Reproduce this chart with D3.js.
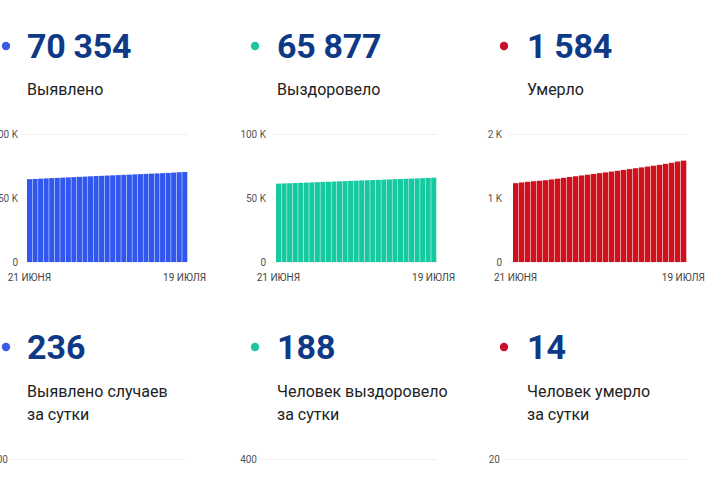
<!DOCTYPE html>
<html><head><meta charset="utf-8">
<script src="https://cdn.jsdelivr.net/npm/d3@7"></script>
<style>
html,body{margin:0;padding:0;background:#fff;overflow:hidden}
svg{display:block;font-family:Roboto,"Noto Sans",sans-serif}
</style></head>
<body><svg id="c" width="720" height="480"></svg>
<script>
const days = ["21.06","22.06","23.06","24.06","25.06","26.06","27.06","28.06","29.06","30.06",
"01.07","02.07","03.07","04.07","05.07","06.07","07.07","08.07","09.07","10.07",
"11.07","12.07","13.07","14.07","15.07","16.07","17.07","18.07","19.07"];
const xTickLabels = ["21 ИЮНЯ","19 ИЮЛЯ"];
const cases = [64700,64910,65120,65330,65530,65730,65930,66130,66330,66530,66730,66930,67130,67320,67510,
67700,67890,68080,68270,68460,68650,68840,69030,69220,69410,69600,69860,70118,70354];
const recovered = [61200,61370,61540,61700,61860,62020,62190,62360,62530,62700,62870,63040,63210,63380,63550,
63720,63880,64040,64200,64360,64520,64680,64840,65000,65170,65340,65510,65689,65877];
const deaths = [1232,1243,1253,1262,1270,1278,1290,1302,1315,1328,1340,1352,1364,1376,1388,
1400,1413,1426,1439,1452,1465,1478,1491,1504,1518,1533,1550,1570,1584];
const totals = ["70 354","65 877","1 584"];
const totalLabels = ["Выявлено","Выздоровело","Умерло"];
const daily = ["236","188","14"];
const dailyLabels = [["Выявлено случаев","за сутки"],["Человек выздоровело","за сутки"],["Человек умерло","за сутки"]];
const topTicks = [[0,50000,100000],[0,50000,100000],[0,1000,2000]];
const topTickLabels = [["0","50 K","100 K"],["0","50 K","100 K"],["0","1 K","2 K"]];
const dailyTickMax = [400,400,20];
const dailyTickLabels = ["400","400","20"];

const colors = ["#3157ee","#17c9a0","#d0101d"];
const dotColors = ["#3a5ce6","#1fc5a0","#c8102e"];
const navy = "#0e3986";

const svg = d3.select("#c");
const series = [cases, recovered, deaths];
const panels = [
  {tx:27, dot:6,   x0:27,  x1:187, gx0:23,  lab:18,  bgx0:10,  bgx1:185, blab:8},
  {tx:277,dot:255, x0:276, x1:436, gx0:272, lab:266, bgx0:260, bgx1:437, blab:257},
  {tx:527,dot:504, x0:513, x1:686, gx0:509, lab:502, bgx0:503, bgx1:687, blab:500}
];

panels.forEach((p,i)=>{
  svg.append("circle").attr("cx",p.dot).attr("cy",46).attr("r",4.2).attr("fill",dotColors[i]);
  svg.append("text").attr("x",p.tx).attr("y",58).attr("font-size",34).attr("font-weight",700)
    .attr("fill",navy).attr("letter-spacing",-0.3).text(totals[i]);
  svg.append("text").attr("x",p.tx).attr("y",95).attr("font-size",16).attr("fill","#222").text(totalLabels[i]);

  const x = d3.scaleBand().domain(days).range([p.x0,p.x1]).paddingInner(0.14).paddingOuter(0);
  const y = d3.scaleLinear().domain([0, topTicks[i][2]]).range([262,134]);
  const g = svg.append("g");
  g.selectAll("line.grid").data(topTicks[i]).join("line")
    .attr("x1",p.gx0).attr("x2",p.x1+1).attr("y1",d=>y(d)+0.5).attr("y2",d=>y(d)+0.5)
    .attr("stroke","#f0f0f0").attr("stroke-width",1);
  g.selectAll("text.yl").data(topTicks[i]).join("text")
    .attr("x",p.lab).attr("y",d=>y(d)+3.5).attr("text-anchor","end")
    .attr("font-size",10).attr("fill","#555").text((d,k)=>topTickLabels[i][k]);
  g.selectAll("rect").data(series[i]).join("rect")
    .attr("x",(d,k)=>x(days[k])).attr("width",x.bandwidth()+0.3)
    .attr("y",d=>y(d)).attr("height",d=>y(0)-y(d)).attr("fill",colors[i]);
  const tickDays = [days[0], days[days.length-1]];
  g.selectAll("text.xl").data(tickDays).join("text")
    .attr("x",d=>x(d)+x.bandwidth()/2).attr("y",281).attr("text-anchor","middle")
    .attr("font-size",10).attr("fill","#444").text((d,k)=>xTickLabels[k]);

  svg.append("circle").attr("cx",p.dot).attr("cy",347).attr("r",4.2).attr("fill",dotColors[i]);
  svg.append("text").attr("x",p.tx).attr("y",359).attr("font-size",34).attr("font-weight",700)
    .attr("fill",navy).text(daily[i]);
  dailyLabels[i].forEach((t,k)=>{
    svg.append("text").attr("x",p.tx).attr("y",397+k*23).attr("font-size",16).attr("fill","#222").text(t);
  });
  const yb = d3.scaleLinear().domain([0,dailyTickMax[i]]).range([587,459]);
  svg.append("line").attr("x1",p.bgx0).attr("x2",p.bgx1)
    .attr("y1",yb(dailyTickMax[i])+0.5).attr("y2",yb(dailyTickMax[i])+0.5)
    .attr("stroke","#f0f0f0");
  svg.append("text").attr("x",p.blab).attr("y",yb(dailyTickMax[i])+3.5).attr("text-anchor","end")
    .attr("font-size",10).attr("fill","#555").text(dailyTickLabels[i]);
});
</script></body></html>
